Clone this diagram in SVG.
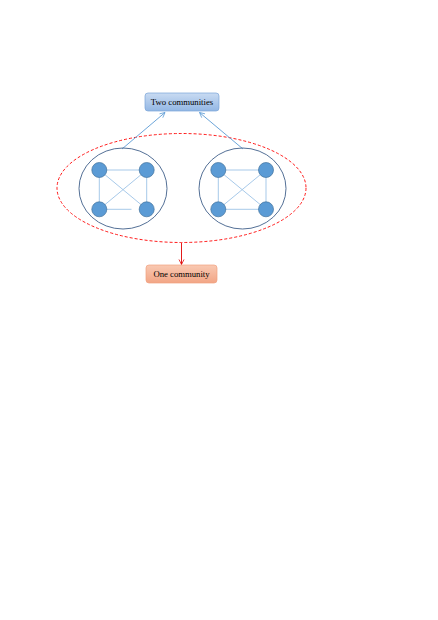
<svg xmlns="http://www.w3.org/2000/svg" width="438" height="620" viewBox="0 0 438 620">
<defs>
<linearGradient id="gb" x1="0" y1="0" x2="0" y2="1"><stop offset="0" stop-color="#c9dbf2"/><stop offset="1" stop-color="#93b7e4"/></linearGradient>
<linearGradient id="go" x1="0" y1="0" x2="0" y2="1"><stop offset="0" stop-color="#f9c9b2"/><stop offset="1" stop-color="#f2a585"/></linearGradient>
<marker id="ab" viewBox="0 0 10 10" refX="9" refY="5" markerWidth="7" markerHeight="7" orient="auto"><path d="M1,1 L9,5 L1,9" fill="none" stroke="#5b9bd5" stroke-width="1.2"/></marker>
<marker id="ar" viewBox="0 0 10 10" refX="9" refY="5" markerWidth="7" markerHeight="7" orient="auto"><path d="M1,1 L9,5 L1,9" fill="none" stroke="#e00000" stroke-width="1.2"/></marker>
</defs>
<style>
.n{fill:#5b9bd5;stroke:#41719c;stroke-width:0.7}
.e{stroke:#9dc3e6;stroke-width:0.9;fill:none}
.c{fill:none;stroke:#41608a;stroke-width:0.9}
.t{font-family:"Liberation Serif",serif;font-size:8.7px;fill:#000;text-anchor:middle}
</style>
<rect width="438" height="620" fill="#fff"/>
<g id="outer"><ellipse cx="181.5" cy="188" rx="124.5" ry="54.5" fill="none" stroke="#ff0000" stroke-width="0.9" stroke-dasharray="3,2"/></g>
<g id="connectors">
<line x1="122" y1="149" x2="165" y2="112.5" stroke="#5b9bd5" stroke-width="0.9" marker-end="url(#ab)"/>
<line x1="243" y1="149" x2="199.5" y2="112.5" stroke="#5b9bd5" stroke-width="0.9" marker-end="url(#ab)"/>
<line x1="181.5" y1="243" x2="181.5" y2="264.5" stroke="#e00000" stroke-width="0.9" marker-end="url(#ar)"/>
</g>
<g id="community-left">
<ellipse class="c" cx="123" cy="188.5" rx="44" ry="40.5"/>
<line class="e" x1="99.3" y1="170" x2="146.7" y2="170"/>
<line class="e" x1="99.3" y1="170" x2="99.3" y2="209.3"/>
<line class="e" x1="146.7" y1="170" x2="146.7" y2="209.3"/>
<line class="e" x1="99.3" y1="209.3" x2="131.5" y2="209.3"/>
<line class="e" x1="99.3" y1="170" x2="146.7" y2="209.3"/>
<line class="e" x1="146.7" y1="170" x2="99.3" y2="209.3"/>
<circle class="n" cx="99.3" cy="170" r="7.5"/>
<circle class="n" cx="146.7" cy="170" r="7.5"/>
<circle class="n" cx="99.3" cy="209.3" r="7.5"/>
<circle class="n" cx="146.7" cy="209.3" r="7.5"/>
</g>
<g id="community-right">
<ellipse class="c" cx="242.5" cy="188.5" rx="43.5" ry="40.5"/>
<line class="e" x1="218.3" y1="170" x2="266" y2="170"/>
<line class="e" x1="218.3" y1="170" x2="218.3" y2="209.3"/>
<line class="e" x1="266" y1="170" x2="266" y2="209.3"/>
<line class="e" x1="218.3" y1="209.3" x2="266" y2="209.3"/>
<line class="e" x1="218.3" y1="170" x2="266" y2="209.3"/>
<line class="e" x1="266" y1="170" x2="218.3" y2="209.3"/>
<circle class="n" cx="218.3" cy="170" r="7.5"/>
<circle class="n" cx="266" cy="170" r="7.5"/>
<circle class="n" cx="218.3" cy="209.3" r="7.5"/>
<circle class="n" cx="266" cy="209.3" r="7.5"/>
</g>
<g id="two-communities">
<rect x="145" y="93" width="74" height="18" rx="3" fill="url(#gb)" stroke="#7aa3d8" stroke-width="0.7"/>
<text class="t" x="182" y="104.5">Two communities</text>
</g>
<g id="one-community">
<rect x="146" y="265" width="71" height="18" rx="3" fill="url(#go)" stroke="#f0a080" stroke-width="0.7"/>
<text class="t" x="181.5" y="276.5">One community</text>
</g>
</svg>
